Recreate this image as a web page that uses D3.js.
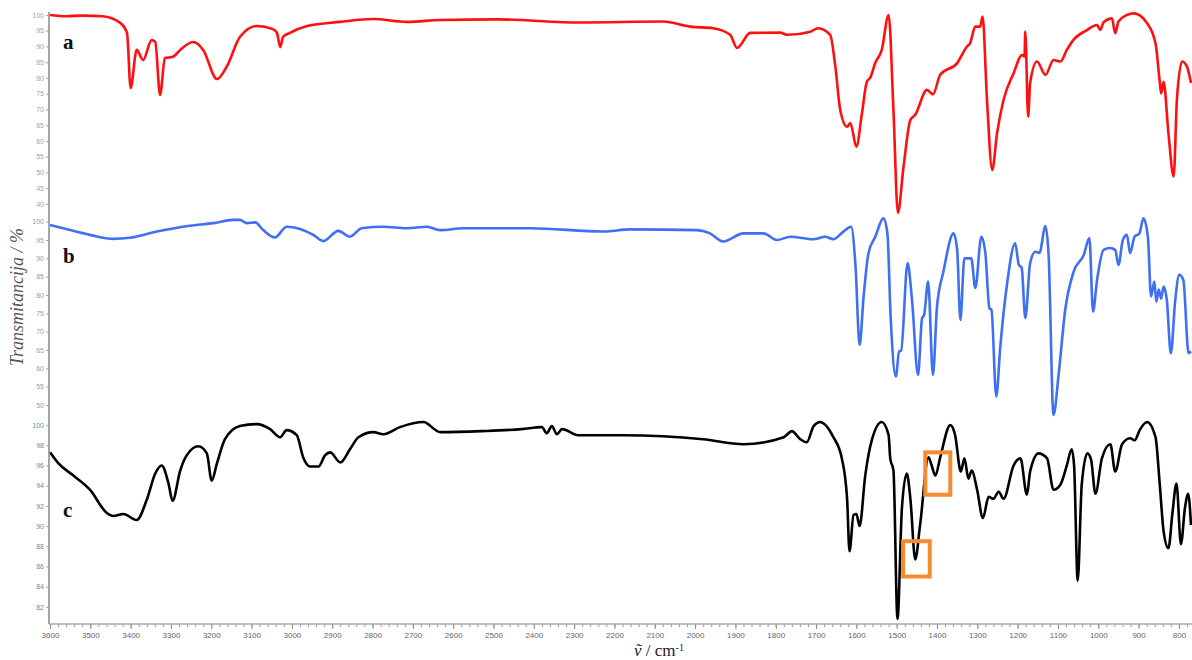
<!DOCTYPE html>
<html>
<head>
<meta charset="utf-8">
<script src="https://cdn.jsdelivr.net/npm/d3@7"></script>
<style>
  body { margin: 0; background: #fff; }
  svg { display: block; }
</style>
</head>
<body>
<div id="chart"></div>
<script>
// spectrum a (red) - wavenumber / transmittance
let wnA = [3600, 3560, 3520, 3470, 3426, 3409, 3400, 3385, 3369, 3348, 3339, 3327, 3315, 3295, 3277, 3245, 3220, 3186, 3162, 3129,
    3087, 3047, 3037, 3029, 3022, 3005, 2962, 2880, 2799, 2714, 2632, 2491, 2285, 2079, 2012, 1955, 1913, 1896, 1863, 1789,
    1771, 1714, 1695, 1665, 1652, 1640, 1623, 1615, 1600, 1586, 1574, 1566, 1553, 1537, 1520, 1508, 1497, 1483, 1466, 1454,
    1425, 1410, 1392, 1350, 1326, 1318, 1305, 1293, 1287, 1276, 1263, 1251, 1235, 1210, 1189, 1183, 1181, 1174, 1169, 1152,
    1131, 1111, 1094, 1078, 1062, 1028, 1003, 995, 987, 966, 958, 950, 929, 912, 879, 858, 848, 844, 838, 826,
    813, 805, 792, 780, 770];
let tA = [100, 99.6, 99.8, 99.6, 97.5, 94.3, 76.8, 88.9, 85.7, 92, 91.5, 74.6, 86.3, 86.7, 88.9, 91.4, 88.9, 79.7, 83.5, 93,
    96.5, 95.5, 94.3, 89.8, 93, 94.3, 96.5, 97.8, 98.7, 97.8, 98.4, 98.6, 97.6, 97.9, 96.3, 95.8, 93.7, 89.5, 94.3, 94.4,
    93.7, 94.7, 95.8, 93.7, 83.5, 69.8, 64.5, 65.7, 58.2, 68.9, 78.8, 80, 84.8, 88.9, 100, 69.8, 37.2, 51.8, 66.7, 68.3,
    76.2, 74.8, 81, 84.7, 89.9, 91, 96.3, 96.3, 99.5, 73, 50.8, 62.5, 73, 81.5, 87.3, 86.8, 94.7, 67.7, 78.4, 85.2,
    81, 85.7, 85.2, 88.9, 92, 95.2, 96.8, 95.2, 97.6, 98.9, 94.2, 97.9, 100, 100.5, 97.4, 91, 79.4, 75.1, 78.8, 62.5,
    48.7, 73, 85.2, 83.6, 78.4];

// spectrum b (blue)
let wnB = [3600, 3567, 3501, 3443, 3402, 3335, 3253, 3195, 3145, 3129, 3112, 3091, 3071, 3042, 3013, 2980, 2947, 2922, 2885, 2856,
    2827, 2773, 2715, 2665, 2632, 2575, 2409, 2227, 2161, 1996, 1963, 1930, 1880, 1830, 1797, 1764, 1706, 1677, 1657, 1632,
    1613, 1602, 1592, 1582, 1570, 1553, 1533, 1523, 1515, 1502, 1494, 1489, 1473, 1462, 1447, 1437, 1432, 1422, 1410, 1400,
    1384, 1359, 1350, 1342, 1332, 1315, 1305, 1290, 1280, 1270, 1265, 1253, 1243, 1226, 1206, 1197, 1190, 1181, 1169, 1156,
    1146, 1131, 1123, 1111, 1098, 1082, 1061, 1036, 1022, 1013, 1003, 987, 971, 958, 950, 939, 929, 921, 910, 898,
    888, 877, 869, 861, 856, 850, 844, 838, 830, 820, 809, 799, 789, 776, 770];
let tB = [99.1, 98.2, 96.4, 95.3, 95.6, 97.3, 98.9, 99.6, 100.5, 100.5, 99.6, 99.8, 97.7, 95.7, 98.6, 98, 96.4, 94.7, 97.5, 95.9,
    98.2, 98.6, 98.2, 98.6, 97.7, 98.2, 98.2, 97.3, 97.9, 97.7, 96.8, 94.6, 96.8, 96.8, 95, 95.9, 95.2, 95.9, 95.2, 97.3,
    98.6, 87.7, 66.4, 79.6, 91.4, 95.9, 100.9, 96.8, 74.1, 57.8, 64.6, 64.8, 88.7, 78.7, 58.2, 73.7, 74.5, 83.7, 58.2, 76.8,
    86.4, 96.8, 92.3, 73.2, 90, 90, 81.9, 95.9, 91.4, 76.4, 76, 52.3, 65.9, 83.2, 94.1, 88.2, 87.5, 73.7, 88.7, 91.8,
    91.5, 98.8, 90.5, 47.3, 58.7, 75.9, 86.4, 90.9, 95.5, 75.5, 84.1, 92.3, 92.8, 92.3, 88.2, 95, 96.4, 91.4, 95.9, 96.8,
    100.9, 95.9, 79.6, 83.7, 78.2, 81.5, 79, 82.3, 78.7, 64.1, 78.7, 85.5, 84.1, 64.1, 64.6];

// spectrum c (black)
let wnC = [3600, 3579, 3542, 3501, 3459, 3443, 3418, 3385, 3360, 3339, 3323, 3306, 3296, 3277, 3261, 3232, 3211, 3199, 3186, 3166,
    3129, 3087, 3054, 3029, 3013, 2988, 2972, 2955, 2934, 2918, 2905, 2880, 2856, 2835, 2798, 2773, 2732, 2674, 2632, 2530,
    2430, 2380, 2368, 2355, 2343, 2330, 2290, 2180, 1980, 1880, 1780, 1760, 1739, 1723, 1706, 1690, 1657, 1636, 1623, 1617,
    1607, 1600, 1592, 1578, 1561, 1537, 1520, 1516, 1508, 1498, 1487, 1475, 1466, 1454, 1442, 1421, 1414, 1404, 1392, 1367,
    1355, 1341, 1332, 1322, 1314, 1301, 1286, 1272, 1260, 1247, 1235, 1210, 1193, 1177, 1169, 1148, 1127, 1111, 1094, 1078,
    1066, 1060, 1051, 1041, 1027, 1018, 1007, 991, 970, 958, 941, 921, 910, 896, 879, 858, 848, 838, 826, 816,
    806, 795, 785, 777, 770];
let tC = [97.3, 96.2, 95, 93.6, 91.3, 91, 91.2, 90.6, 92.6, 95.2, 96, 94.2, 92.5, 95.5, 97, 97.9, 97.2, 94.5, 96.2, 98.6,
    99.9, 100.1, 99.6, 98.8, 99.5, 99, 96.8, 95.9, 95.9, 97, 97.3, 96.3, 97.6, 98.8, 99.3, 99.1, 99.8, 100.3, 99.3, 99.4,
    99.6, 99.8, 99.2, 99.9, 99.1, 99.6, 99, 99, 98.6, 98.1, 98.8, 99.4, 98.6, 98.3, 99.9, 100.3, 98.8, 96.7, 92.7, 87.5,
    91.1, 91.2, 90, 95, 98.6, 100.3, 99, 96.7, 95.5, 80.8, 91.8, 95.2, 92.7, 86.7, 90.1, 96.8, 96.1, 95, 96.8, 100,
    99, 95.4, 96.7, 94.7, 95.5, 93.7, 90.8, 92.9, 92.7, 93.4, 92.7, 96, 96.7, 93.1, 95.4, 97.2, 96.7, 93.6, 94.1, 96,
    97.6, 96, 84.6, 94.1, 97.2, 96.6, 93.2, 96.7, 98.1, 95.4, 98.1, 98.7, 98.5, 99.6, 100.3, 98.8, 94.4, 89.5, 87.8, 91.3,
    94.2, 88.2, 91.8, 93.2, 90.1];

// tick values
let xTicks = d3.range(3600, 799, -100);
let yTicksA = d3.range(40, 101, 5);
let yTicksB = d3.range(50, 101, 5);
let yTicksC = d3.range(82, 101, 2);

// highlighted bands in spectrum c: [wn from, wn to, T top, T bottom]
let boxesC = [[1429, 1367, 97.3, 93.1], [1484, 1418, 88.5, 85.0]];

let totalWidth = 1192;
let totalHeight = 660;
let plotLeft = 49;
let plotRight = 1192;
let axisY = 624;

let svg = d3.select("#chart")
    .append("svg")
    .attr("width", totalWidth)
    .attr("height", totalHeight);

let xScale = d3.scaleLinear()
    .domain([3600, 770])
    .range([50, 1191]);

// panel definitions (each panel has its own y scale)
let panels = [
    {name: "a", wn: wnA, t: tA, color: "#ff1010", ticks: yTicksA, tickColor: "#7db0c2",
        y: d3.scaleLinear().domain([35, 101]).range([219.7, 11.8]), labelY: 49},
    {name: "b", wn: wnB, t: tB, color: "#3f6ff2", ticks: yTicksB, tickColor: "#8e9ea8",
        y: d3.scaleLinear().domain([47, 101]).range([416, 218]), labelY: 263},
    {name: "c", wn: wnC, t: tC, color: "#000000", ticks: yTicksC, tickColor: "#4f9c93",
        y: d3.scaleLinear().domain([80.3, 100.9]).range([624, 416]), labelY: 517}
];

let line = d3.line()
    .curve(d3.curveMonotoneX);

panels.forEach(function(p) {
    //y axis ticks
    let yAxis = d3.axisLeft(p.y)
        .tickValues(p.ticks)
        .tickSize(3)
        .tickPadding(2)
        .tickFormat(d3.format("d"));

    let g = svg.append("g")
        .attr("transform", `translate(${plotLeft}, 0)`)
        .call(yAxis);
    g.select(".domain").remove();
    g.selectAll(".tick line").attr("stroke", "#9aa");
    g.selectAll(".tick text")
        .style("font-family", "Arial, 'Liberation Sans', sans-serif")
        .style("font-size", "7px")
        .attr("fill", p.tickColor);

    //the spectrum
    let pts = p.wn.map(function(w, i) { return [xScale(w), p.y(p.t[i])]; });
    svg.append("path")
        .attr("d", line(pts))
        .attr("fill", "none")
        .attr("stroke", p.color)
        .attr("stroke-width", 2.6)
        .attr("stroke-linejoin", "round");

    //panel letter
    svg.append("text")
        .attr("x", 63)
        .attr("y", p.labelY)
        .style("font-family", "'Liberation Serif', 'DejaVu Serif', serif")
        .style("font-weight", "bold")
        .style("font-size", "21px")
        .attr("fill", "#111")
        .text(p.name);
});

// orange boxes on spectrum c
let yc = panels[2].y;
svg.selectAll(".band")
    .data(boxesC)
    .enter()
    .append("rect")
    .attr("class", "band")
    .attr("x", function(d) { return xScale(d[0]); })
    .attr("y", function(d) { return yc(d[2]); })
    .attr("width", function(d) { return xScale(d[1]) - xScale(d[0]); })
    .attr("height", function(d) { return yc(d[3]) - yc(d[2]); })
    .attr("fill", "none")
    .attr("stroke", "#f58a2e")
    .attr("stroke-width", 4);

// vertical axis line
svg.append("line")
    .attr("x1", plotLeft).attr("x2", plotLeft)
    .attr("y1", 12).attr("y2", axisY)
    .attr("stroke", "#888")
    .attr("stroke-width", 1.5);

// x axis with minor ticks
let minor = d3.axisBottom(xScale)
    .tickValues(d3.range(3600, 769, -20))
    .tickSize(3)
    .tickFormat("");
let gMinor = svg.append("g")
    .attr("transform", `translate(0, ${axisY})`)
    .call(minor);
gMinor.select(".domain").remove();
gMinor.selectAll(".tick line").attr("stroke", "#999");

let xAxis = d3.axisBottom(xScale)
    .tickValues(xTicks)
    .tickSize(5)
    .tickPadding(3)
    .tickFormat(d3.format("d"));
let gx = svg.append("g")
    .attr("transform", `translate(0, ${axisY})`)
    .call(xAxis);
gx.select(".domain").remove();
gx.selectAll(".tick line").attr("stroke", "#888");
gx.selectAll(".tick text")
    .style("font-family", "Arial, 'Liberation Sans', sans-serif")
    .style("font-size", "8px")
    .attr("fill", "#666");

svg.append("line")
    .attr("x1", plotLeft).attr("x2", plotRight)
    .attr("y1", axisY).attr("y2", axisY)
    .attr("stroke", "#aaa")
    .attr("stroke-width", 1.5);

// axis titles
svg.append("text")
    .attr("transform", "translate(23, 297) rotate(-90)")
    .attr("text-anchor", "middle")
    .style("font-family", "'Liberation Serif', 'DejaVu Serif', serif")
    .style("font-style", "italic")
    .style("font-size", "18px")
    .attr("fill", "#555")
    .text("Transmitancija / %");

let xt = svg.append("text")
    .attr("x", 634)
    .attr("y", 656)
    .style("font-family", "'Liberation Serif', 'DejaVu Serif', serif")
    .style("font-size", "17px")
    .attr("fill", "#222");
xt.append("tspan").style("font-style", "italic").text("ṽ");
xt.append("tspan").text(" / cm");
xt.append("tspan").attr("dy", -5).style("font-size", "10px").text("-1");
</script>
</body>
</html>
